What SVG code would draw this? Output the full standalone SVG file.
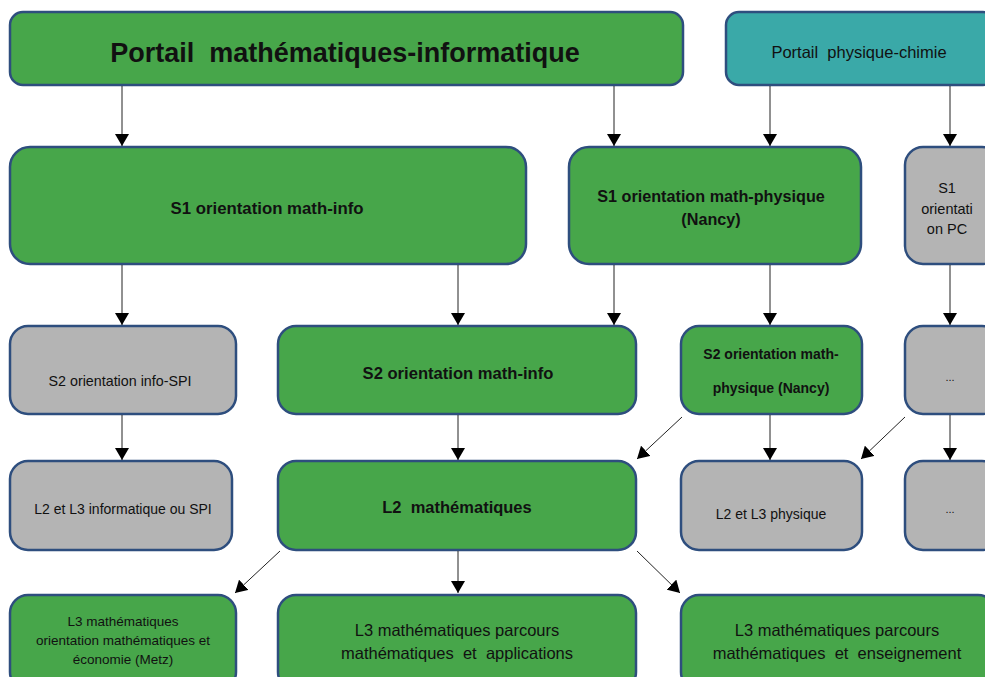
<svg xmlns="http://www.w3.org/2000/svg" width="985" height="677" viewBox="0 0 985 677">
<defs>
<marker id="ah" viewBox="0 0 12 14" refX="12" refY="7" markerWidth="12" markerHeight="14" markerUnits="userSpaceOnUse" orient="auto">
<path d="M0,0 L12,7 L0,14 Z" fill="#000"/>
</marker>
<style>
.g{fill:#47a64a;stroke:#2e4e7e;stroke-width:2.5}
.gr{fill:#b4b4b4;stroke:#2e4e7e;stroke-width:2.5}
.t{fill:#3aa9a8;stroke:#2e4e7e;stroke-width:2.5}
text{font-family:"Liberation Sans","Noto Sans",sans-serif;fill:#111;text-anchor:middle;white-space:pre}
.b{font-weight:bold}
.c line{stroke:#222;stroke-width:1;marker-end:url(#ah)}
</style>
</defs>
<rect width="985" height="677" fill="#fff"/>
<g id="portail-mi"><rect class="g" x="10" y="12" width="673" height="73" rx="13"/><text class="b" x="345" y="62" font-size="27">Portail  mathématiques-informatique</text></g>
<g id="portail-pc"><rect class="t" x="726" y="12" width="270" height="73" rx="13"/><text x="859" y="58" font-size="16.5">Portail  physique-chimie</text></g>
<g id="s1-mi"><rect class="g" x="10" y="147" width="516" height="117" rx="20"/><text class="b" x="267" y="214" font-size="16.8">S1 orientation math-info</text></g>
<g id="s1-mp"><rect class="g" x="569" y="147" width="292" height="117" rx="20"/><text class="b" x="711" y="202" font-size="16.2">S1 orientation math-physique</text><text class="b" x="711" y="225" font-size="16.2">(Nancy)</text></g>
<g id="s1-pc"><rect class="gr" x="905" y="147" width="95" height="117" rx="18"/><text x="947" y="193" font-size="14.5">S1</text><text x="947" y="214" font-size="14.5">orientati</text><text x="947" y="234" font-size="14.5">on PC</text></g>
<g id="s2-is"><rect class="gr" x="10" y="326" width="226" height="88" rx="18"/><text x="120" y="386" font-size="14.3">S2 orientation info-SPI</text></g>
<g id="s2-mi"><rect class="g" x="278" y="326" width="358" height="88" rx="18"/><text class="b" x="458" y="379" font-size="16.6">S2 orientation math-info</text></g>
<g id="s2-mp"><rect class="g" x="681" y="326" width="181" height="88" rx="18"/><text class="b" x="771" y="359" font-size="14">S2 orientation math-</text><text class="b" x="771" y="393" font-size="14">physique (Nancy)</text></g>
<g id="s2-pc"><rect class="gr" x="905" y="326" width="95" height="88" rx="18"/><text x="950" y="381" font-size="11">...</text></g>
<g id="l2-is"><rect class="gr" x="10" y="461" width="222" height="89" rx="18"/><text x="123" y="514" font-size="14">L2 et L3 informatique ou SPI</text></g>
<g id="l2-m"><rect class="g" x="278" y="461" width="358" height="89" rx="18"/><text class="b" x="457" y="513" font-size="16.5">L2  mathématiques</text></g>
<g id="l2-p"><rect class="gr" x="681" y="461" width="181" height="89" rx="18"/><text x="771" y="519" font-size="14">L2 et L3 physique</text></g>
<g id="l2-pc"><rect class="gr" x="905" y="461" width="95" height="89" rx="18"/><text x="950" y="513" font-size="11">...</text></g>
<g id="l3-me"><rect class="g" x="10" y="595" width="226" height="95" rx="18"/><text x="123" y="626" font-size="13.5">L3 mathématiques</text><text x="123" y="645" font-size="13.5">orientation mathématiques et</text><text x="123" y="664" font-size="13.5">économie (Metz)</text></g>
<g id="l3-ma"><rect class="g" x="278" y="595" width="358" height="95" rx="18"/><text x="457" y="636" font-size="16.5">L3 mathématiques parcours</text><text x="457" y="659" font-size="16.5">mathématiques  et  applications</text></g>
<g id="l3-mens"><rect class="g" x="681" y="595" width="315" height="95" rx="18"/><text x="837" y="636" font-size="16.5">L3 mathématiques parcours</text><text x="837" y="659" font-size="16.5">mathématiques  et  enseignement</text></g>
<g id="connectors" class="c">
<line x1="122" y1="86" x2="122" y2="146"/>
<line x1="614" y1="86" x2="614" y2="146"/>
<line x1="770" y1="86" x2="770" y2="146"/>
<line x1="950" y1="86" x2="950" y2="146"/>
<line x1="122" y1="265" x2="122" y2="325"/>
<line x1="458" y1="265" x2="458" y2="325"/>
<line x1="614" y1="265" x2="614" y2="325"/>
<line x1="770" y1="265" x2="770" y2="325"/>
<line x1="950" y1="265" x2="950" y2="325"/>
<line x1="122" y1="415" x2="122" y2="460"/>
<line x1="458" y1="415" x2="458" y2="460"/>
<line x1="770" y1="415" x2="770" y2="460"/>
<line x1="950" y1="415" x2="950" y2="460"/>
<line x1="682" y1="417" x2="637" y2="459"/>
<line x1="905" y1="417" x2="861" y2="459"/>
<line x1="280" y1="551" x2="235" y2="593"/>
<line x1="458" y1="551" x2="458" y2="593"/>
<line x1="637" y1="551" x2="680" y2="593"/>
</g>
</svg>
